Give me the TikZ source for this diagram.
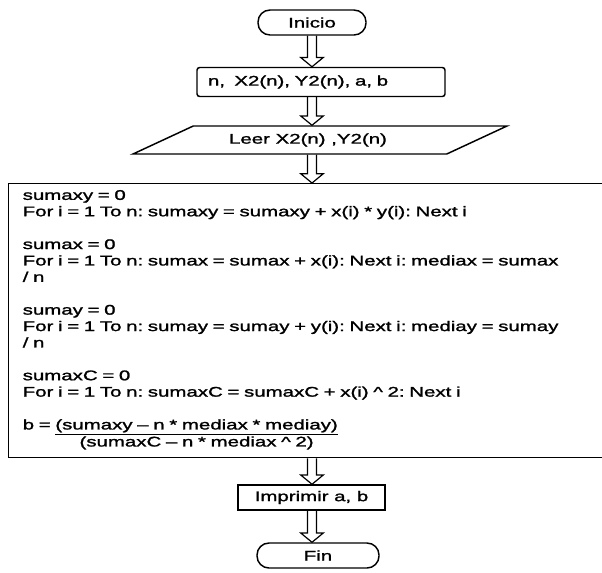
\documentclass[tikz,border=0pt]{standalone}
\usepackage{fontspec}
\setmainfont{Liberation Sans}[FakeStretch=1.46, FakeBold=1.5]
\usetikzlibrary{shapes.geometric,calc}
\frenchspacing
\newcommand\letra{\fontsize{10.5pt}{12.3pt}\selectfont}
\tikzset{
  terminal/.style={
    draw,
    line width=1.1pt,
    rounded corners=9pt,
    minimum width=81pt,
    minimum height=18.75pt,
    font=\letra
  },
  datos/.style={
    draw,
    line width=1.1pt,
    rounded corners=2pt,
    minimum width=186pt,
    minimum height=21.75pt,
    inner xsep=8.25pt,
    text width=169.5pt,
    align=left,
    font=\letra
  },
  lectura/.style={
    draw,
    line width=1.1pt,
    trapezium,
    trapezium left angle=20,
    trapezium right angle=160,
    trapezium stretches body,
    minimum width=280.5pt,
    minimum height=21pt,
    font=\letra
  },
  proceso/.style={
    draw,
    line width=1.1pt,
    anchor=north west,
    minimum width=451.5pt,
    minimum height=205.5pt,
    inner xsep=10.5pt,
    text width=430.5pt,
    align=left,
    font=\letra
  },
  salida/.style={
    draw,
    line width=1.1pt,
    minimum width=110pt,
    minimum height=18.75pt,
    font=\letra
  },
  hueca/.style={
    line width=0.9pt,
    to path={let \p1=(\tikztostart), \p2=(\tikztotarget) in
      (\x1-3.4pt,\y1) -- (\x1-3.4pt,\y2+7pt) -- (\x1-8.5pt,\y2+7pt) -- (\x1,\y2)
      -- (\x1+8.5pt,\y2+7pt) -- (\x1+3.4pt,\y2+7pt) -- (\x1+3.4pt,\y1)}
  }
}

\begin{document}
\begin{tikzpicture}[x=0.75pt,y=-0.75pt]
  \useasboundingbox (0,0) rectangle (602,572);

  \node[terminal] (inicio) at (312,22.5) {Inicio};
  \node[datos] (datos) at (321,82) {n,\ \ X2(n), Y2(n), a, b};
  \node[lectura] (leer) at (320,140) {\hspace*{-18pt}Leer X2(n) ,Y2(n)};
  \node[proceso] (calculo) at (8,183) {sumaxy = 0\\
    For i = 1 To n: sumaxy = sumaxy + x(i) * y(i): Next i\\[12.3pt]
    sumax = 0\\
    For i = 1 To n: sumax = sumax + x(i): Next i: mediax = sumax\\
    / n\\[12.3pt]
    sumay = 0\\
    For i = 1 To n: sumay = sumay + y(i): Next i: mediay = sumay\\
    / n\\[12.3pt]
    sumaxC = 0\\
    For i = 1 To n: sumaxC = sumaxC + x(i) \textasciicircum{} 2: Next i\\[12.3pt]
    b = \begin{tabular}[t]{@{}c@{}}\underline{(sumaxy – n * mediax * mediay)}\\
      (sumaxC – n * mediax \textasciicircum{} 2)\end{tabular}};
  \node[salida] (imprimir) at (311.5,497.5) {Imprimir a, b};
  \node[terminal, minimum width=91.5pt] (fin) at (318,555.5) {Fin};

  \draw[hueca] (inicio.south) to (datos.north -| inicio);
  \draw[hueca] (datos.south -| inicio) to (leer.north -| inicio);
  \draw[hueca] (leer.south -| inicio) to (calculo.north -| inicio);
  \draw[hueca] (calculo.south -| inicio) to (imprimir.north -| inicio);
  \draw[hueca] (imprimir.south -| inicio) to (fin.north -| inicio);
\end{tikzpicture}
\end{document}
